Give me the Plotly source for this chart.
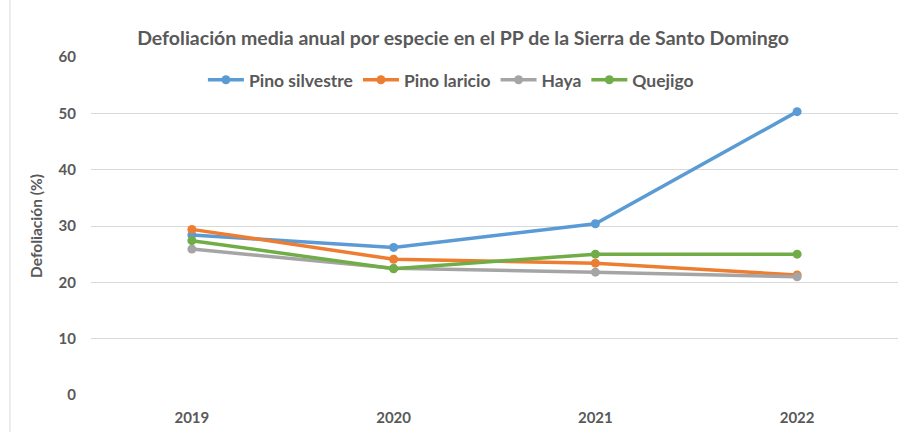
import plotly.graph_objects as go

YEARS = ["2019", "2020", "2021", "2022"]
PINO_SILVESTRE = [28.4, 26.2, 30.4, 50.3]
PINO_LARICIO = [29.4, 24.1, 23.4, 21.3]
HAYA = [25.9, 22.5, 21.8, 21.0]
QUEJIGO = [27.4, 22.4, 25.0, 25.0]

SERIES = [
    ("Pino silvestre", PINO_SILVESTRE, "#5B9BD5"),
    ("Pino laricio", PINO_LARICIO, "#ED7D31"),
    ("Haya", HAYA, "#A5A5A5"),
    ("Quejigo", QUEJIGO, "#70AD47"),
]

TEXT_COLOR = "#595959"
FONT = "Lato"

fig = go.Figure()
for name, values, color in SERIES:
    fig.add_trace(go.Scatter(
        x=YEARS,
        y=values,
        name=name,
        mode="lines+markers",
        line=dict(color=color, width=3.5),
        marker=dict(size=9, color=color),
    ))

fig.update_layout(
    width=901,
    height=432,
    paper_bgcolor="white",
    plot_bgcolor="white",
    margin=dict(l=91, r=3, t=57, b=37, autoexpand=False),
    font=dict(family=FONT, color=TEXT_COLOR),
    title=dict(
        text="<b>Defoliación media anual por especie en el PP de la Sierra de Santo Domingo</b>",
        x=0.514, xanchor="center", y=0.912, yanchor="middle",
        font=dict(size=19.5, color=TEXT_COLOR),
    ),
    legend=dict(
        orientation="h", x=0.446, xanchor="center",
        yref="container", y=0.815, yanchor="middle",
        font=dict(size=17.5, color=TEXT_COLOR, weight="bold"),
        bgcolor="rgba(0,0,0,0)", itemwidth=36,
    ),
    xaxis=dict(
        type="category", range=[-0.5, 3.5], automargin=False,
        showgrid=False, zeroline=False, showline=False,
        tickfont=dict(size=15, color=TEXT_COLOR, weight="bold"),
        ticks="", ticklabelstandoff=12,
    ),
    yaxis=dict(
        range=[0, 60], dtick=10, automargin=False,
        showgrid=True, gridcolor="#D9D9D9", gridwidth=1,
        zeroline=False, showline=False,
        tickfont=dict(size=15, color=TEXT_COLOR, weight="bold"),
        ticklabelstandoff=14,
        title=dict(text="<b>Defoliación (%)</b>", font=dict(size=15.5, color=TEXT_COLOR), standoff=12),
    ),
    shapes=[dict(
        type="line", xref="paper", yref="paper",
        x0=-0.1004, x1=-0.1004, y0=-0.2, y1=1.3,
        line=dict(color="#D9D9D9", width=1),
    )],
)

fig.write_html(
    "out.html",
    config={"displayModeBar": False},
    post_script="document.body.style.margin='0';",
)
